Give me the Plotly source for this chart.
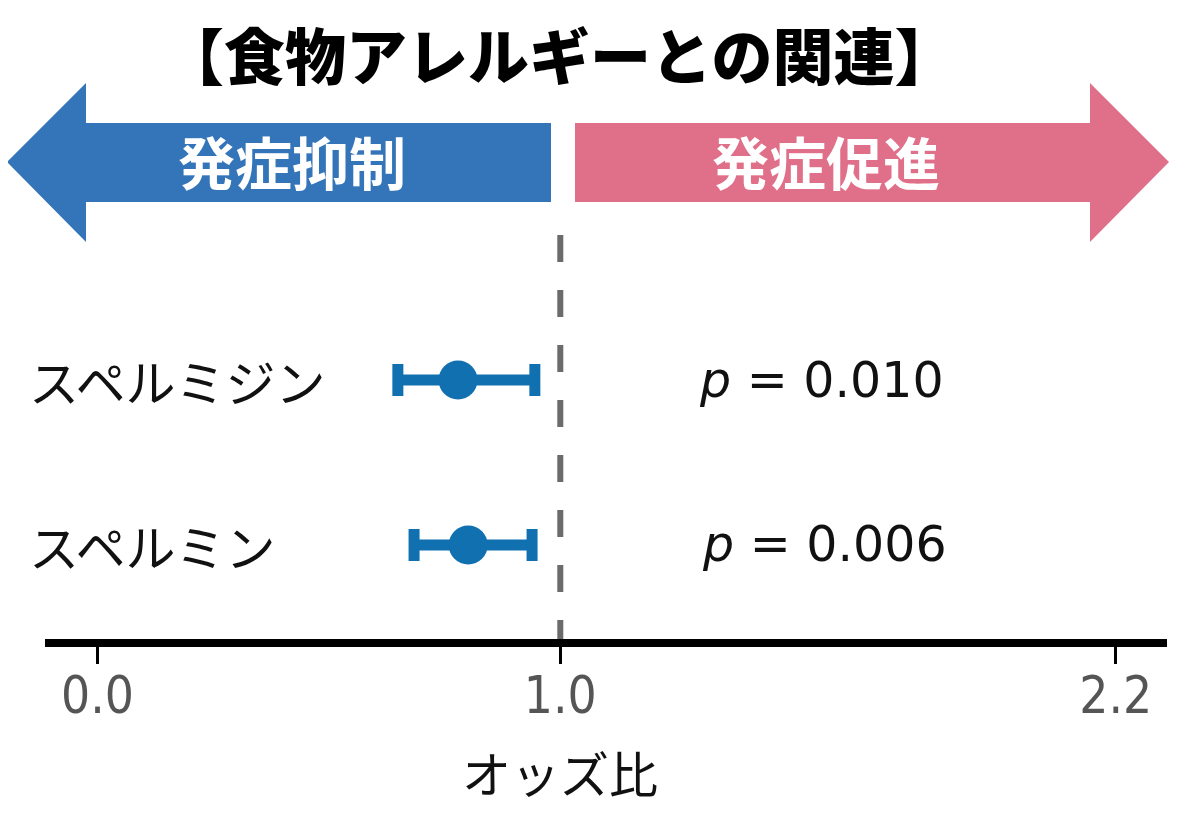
import plotly.graph_objects as go

# data
labels = ["スペルミジン", "スペルミン"]
odds_ratio = [0.779, 0.801]
ci_low = [0.649, 0.684]
ci_high = [0.945, 0.939]
p_values = ["0.010", "0.006"]

tick_vals = [0.0, 1.0, 2.2]
tick_text = ["0.0", "1.0", "2.2"]

# the page puts the figure 8px in from the corner
OFF = 8
W, H = 1200 - OFF, 840 - OFF
L, R, T, B = 45 - OFF, 33, 235 - OFF, 201
PW, PH = W - L - R, H - T - B
X0, XS = 97.5, 462.8  # screen px of OR=0 and px per unit

BLUE = "#3375b8"
PINK = "#e0708a"
DOT = "#1170b0"
JP = "Noto Sans CJK JP, Noto Sans, sans-serif"


def px(x, y):
    """screen pixel position -> paper coords"""
    return (x - OFF - L) / PW, (H - B - (y - OFF)) / PH


def poly(points):
    path = ""
    for i, (x, y) in enumerate(points):
        xp, yp = px(x, y)
        path += ("M" if i == 0 else "L") + f"{xp:.5f},{yp:.5f} "
    return path + "Z"


err_plus = [h - o for h, o in zip(ci_high, odds_ratio)]
err_minus = [o - l for o, l in zip(odds_ratio, ci_low)]

fig = go.Figure()
fig.add_trace(go.Scatter(
    x=odds_ratio, y=labels, mode="markers",
    marker=dict(size=39, color=DOT),
    error_x=dict(type="data", array=err_plus, arrayminus=err_minus,
                 color=DOT, thickness=11, width=16),
    showlegend=False, hoverinfo="skip",
))

# arrows
left_arrow = [(7, 162), (86, 83), (86, 123), (551, 123), (551, 202), (86, 202), (86, 242)]
right_arrow = [(575, 123), (1090, 123), (1090, 83), (1169, 162), (1090, 242), (1090, 202), (575, 202)]
for pts, col in [(left_arrow, BLUE), (right_arrow, PINK)]:
    fig.add_shape(type="path", path=poly(pts), xref="paper", yref="paper",
                  fillcolor=col, line=dict(width=0), layer="below")

# reference line at OR = 1
fig.add_shape(type="line", xref="x", yref="paper", x0=1, x1=1, y0=1, y1=0,
              line=dict(color="#6b6b6b", width=6, dash="27px,28px"))

annotations = []
for txt, xc in [("発症抑制", 292), ("発症促進", 826)]:
    xp, yp = px(xc, 160)
    annotations.append(dict(text=txt, x=xp, y=yp, xref="paper", yref="paper",
                            showarrow=False, xanchor="center", yanchor="middle",
                            font=dict(family=JP, size=57, color="white", weight="bold")))

xp, yp = px(559, 53)
annotations.append(dict(text="【食物アレルギーとの関連】", x=xp, y=yp, xref="paper", yref="paper",
                        showarrow=False, xanchor="center", yanchor="middle", borderpad=0,
                        font=dict(family=JP, size=61, color="black", weight=900)))

for lab in labels:
    annotations.append(dict(text=lab, x=px(27, 0)[0], y=lab, xref="paper", yref="y",
                            showarrow=False, xanchor="left", yanchor="middle",
                            font=dict(family=JP, size=50, color="#111111")))

for lab, p, xl in zip(labels, p_values, [697, 700]):
    annotations.append(dict(text=f"<i>p</i> = {p}", x=(xl - X0) / XS, y=lab,
                            xref="x", yref="y", showarrow=False,
                            xanchor="left", yanchor="middle",
                            font=dict(family="DejaVu Sans, sans-serif", size=49, color="#111111")))

xp, yp = px(561, 771)
annotations.append(dict(text="オッズ比", x=1.0, y=yp, xref="x", yref="paper",
                        showarrow=False, xanchor="center", yanchor="middle",
                        font=dict(family=JP, size=49, color="#111111")))

fig.update_layout(
    width=W, height=H,
    margin=dict(l=L, r=R, t=T, b=B),
    paper_bgcolor="white", plot_bgcolor="white",
    annotations=annotations,
    xaxis=dict(
        range=[(L + OFF - X0) / XS, (W + OFF - R - X0) / XS],
        tickvals=tick_vals, ticktext=tick_text,
        ticks="outside", ticklen=17, tickwidth=2.5, tickcolor="black",
        showline=True, linewidth=8, linecolor="black",
        showgrid=False, zeroline=False,
        ticklabelstandoff=-12,
        tickfont=dict(family="Liberation Sans Narrow, Arial Narrow, DejaVu Sans Condensed, sans-serif",
                      size=51, color="#555555"),
    ),
    yaxis=dict(
        type="category", categoryorder="array", categoryarray=labels[::-1],
        range=[-0.57, 1.879],
        showticklabels=False, showgrid=False, zeroline=False, showline=False,
    ),
)

fig.write_html("out.html")
